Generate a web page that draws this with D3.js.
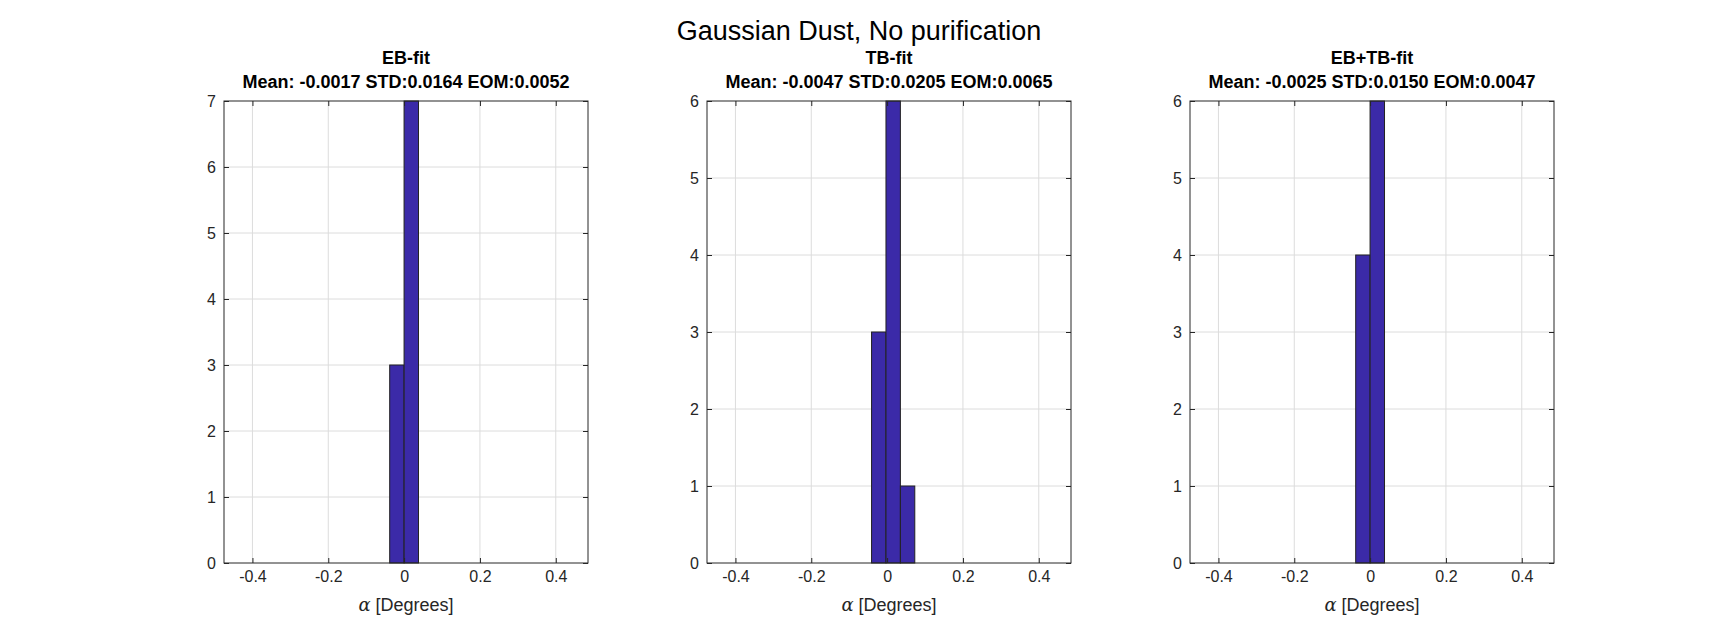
<!DOCTYPE html>
<html>
<meta charset="utf-8">
<style>
  body { margin: 0; background: #fff; }
  svg { font-family: "Liberation Sans", Arial, sans-serif; }
</style>
<body>
<svg width="1719" height="625"></svg>
<script src="https://d3js.org/d3.v7.min.js"></script>
<script>
  var titles = ["EB-fit", "TB-fit", "EB+TB-fit"];
  var stats = ["Mean: -0.0017 STD:0.0164 EOM:0.0052",
               "Mean: -0.0047 STD:0.0205 EOM:0.0065",
               "Mean: -0.0025 STD:0.0150 EOM:0.0047"];
  var binEdges = [[-0.038, 0.0, 0.038],
                  [-0.041, -0.003, 0.035, 0.073],
                  [-0.038, 0.0, 0.038]];
  var counts = [[3, 7], [3, 6, 1], [4, 6]];
  var yMax = [7, 6, 6];
  var xTicks = [-0.4, -0.2, 0, 0.2, 0.4];

  var svg = d3.select("svg");
  var lefts = [224, 707, 1190], w = 364, plotTop = 101, plotBottom = 563;

  svg.append("text").attr("x", 859).attr("y", 40).attr("text-anchor", "middle")
    .attr("font-size", 27).text("Gaussian Dust, No purification");

  lefts.forEach(function(left, p) {
    var x = d3.scaleLinear().domain([-0.475, 0.485]).range([left, left + w]);
    var y = d3.scaleLinear().domain([0, yMax[p]]).range([plotBottom, plotTop]);
    var g = svg.append("g");

    // grid
    g.selectAll(".gx").data(xTicks).enter().append("line")
      .attr("x1", d => x(d)).attr("x2", d => x(d)).attr("y1", plotTop).attr("y2", plotBottom)
      .attr("stroke", "#dcdcdc");
    g.selectAll(".gy").data(d3.range(1, yMax[p])).enter().append("line")
      .attr("x1", left).attr("x2", left + w).attr("y1", d => y(d)).attr("y2", d => y(d))
      .attr("stroke", "#dcdcdc");

    // bars
    var bars = counts[p].map((c, i) => ({x0: binEdges[p][i], x1: binEdges[p][i + 1], c: c}));
    g.selectAll("rect").data(bars).enter().append("rect")
      .attr("x", d => x(d.x0)).attr("width", d => x(d.x1) - x(d.x0))
      .attr("y", d => y(d.c)).attr("height", d => y(0) - y(d.c))
      .attr("fill", "#3b2aa8").attr("stroke", "#222").attr("stroke-width", 1);

    // box
    g.append("rect").attr("x", left).attr("y", plotTop).attr("width", w).attr("height", plotBottom - plotTop)
      .attr("fill", "none").attr("stroke", "#262626");

    var fmt = d => d === 0 ? "0" : d.toFixed(1);
    var xa = g.append("g").attr("transform", "translate(0," + plotBottom + ")")
      .call(d3.axisBottom(x).tickValues(xTicks).tickSize(-5).tickPadding(8).tickFormat(fmt));
    var xt = g.append("g").attr("transform", "translate(0," + plotTop + ")")
      .call(d3.axisTop(x).tickValues(xTicks).tickSize(-5).tickFormat(""));
    var ya = g.append("g").attr("transform", "translate(" + left + ",0)")
      .call(d3.axisLeft(y).ticks(yMax[p]).tickSize(-5).tickPadding(8));
    var yr = g.append("g").attr("transform", "translate(" + (left + w) + ",0)")
      .call(d3.axisRight(y).ticks(yMax[p]).tickSize(-5).tickFormat(""));
    [xa, xt, ya, yr].forEach(function(a) {
      a.select(".domain").remove();
      a.selectAll("line").attr("stroke", "#262626");
      a.selectAll("text").attr("font-size", 16).attr("fill", "#262626")
        .attr("font-family", "Liberation Sans, Arial, sans-serif");
    });

    g.append("text").attr("x", left + w / 2).attr("y", 611).attr("text-anchor", "middle")
      .attr("font-size", 18).attr("fill", "#262626")
      .html('<tspan font-style="italic" font-family="DejaVu Serif">α</tspan> [Degrees]');
    g.append("text").attr("x", left + w / 2).attr("y", 64).attr("text-anchor", "middle")
      .attr("font-size", 18).attr("font-weight", "bold").text(titles[p]);
    g.append("text").attr("x", left + w / 2).attr("y", 88).attr("text-anchor", "middle")
      .attr("font-size", 18).attr("font-weight", "bold").text(stats[p]);
  });
</script>
</body>
</html>
